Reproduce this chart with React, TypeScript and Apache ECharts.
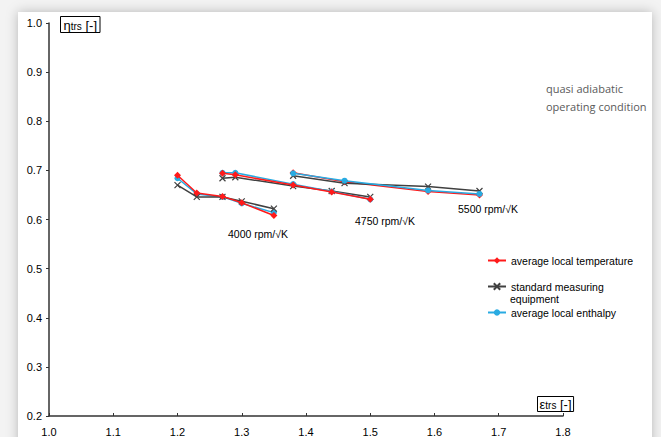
import React, { useEffect, useRef } from "react";
import * as echarts from "echarts";

const legendNames = ["average local temperature", "standard measuring equipment", "average local enthalpy"];
const speedLabels = ["4000 rpm/√K", "4750 rpm/√K", "5500 rpm/√K"];
const xTicks = [1.0, 1.8, 0.1];
const yTicks = [0.2, 1.0, 0.1];

const eps4000 = [1.2, 1.23, 1.27, 1.3, 1.35];
const eps4750 = [1.27, 1.29, 1.38, 1.44, 1.5];
const eps5500 = [1.38, 1.46, 1.59, 1.67];

const temp4000 = [0.69, 0.654, 0.647, 0.634, 0.608];
const std4000 = [0.67, 0.646, 0.646, 0.637, 0.622];
const enth4000 = [0.684, 0.652, 0.646, 0.633, 0.614];

const temp4750 = [0.694, 0.691, 0.67, 0.656, 0.641];
const std4750 = [0.684, 0.686, 0.668, 0.658, 0.646];
const enth4750 = [0.695, 0.695, 0.672, 0.657, 0.641];

const temp5500 = [0.695, 0.677, 0.657, 0.65];
const std5500 = [0.689, 0.674, 0.667, 0.658];
const enth5500 = [0.694, 0.679, 0.659, 0.652];

const RED = "#ff1a1a";
const GREY = "#404040";
const BLUE = "#29abe2";
const FONT = "Liberation Sans";
const X_SYMBOL = "path://M0,0L10,10M10,0L0,10";

const zip = (xs: number[], ys: number[]) => xs.map((x, i) => [x, ys[i]]);

function makeSeries(kind: number, xs: number[], ys: number[], z: number) {
  const base: any = {
    type: "line",
    name: legendNames[kind],
    data: zip(xs, ys),
    z,
    lineStyle: { width: 1.5 },
    emphasis: { disabled: true },
  };
  if (kind === 0) {
    base.symbol = "diamond";
    base.symbolSize = 7;
    base.itemStyle = { color: RED };
    base.lineStyle.color = RED;
  } else if (kind === 1) {
    base.symbol = X_SYMBOL;
    base.symbolSize = 6;
    base.itemStyle = { color: GREY, borderColor: GREY, borderWidth: 1.2 };
    base.lineStyle.color = GREY;
  } else {
    base.symbol = "circle";
    base.symbolSize = 6;
    base.itemStyle = { color: BLUE };
    base.lineStyle.color = BLUE;
  }
  return base;
}

export default function App() {
  const ref = useRef<HTMLDivElement>(null);
  useEffect(() => {
    document.body.style.margin = "0";
    const chart = echarts.init(ref.current!, null, { renderer: "svg" });
    const series = [
      makeSeries(2, eps4000, enth4000, 2),
      makeSeries(1, eps4000, std4000, 3),
      makeSeries(0, eps4000, temp4000, 4),
      makeSeries(1, eps4750, std4750, 2),
      makeSeries(2, eps4750, enth4750, 3),
      makeSeries(0, eps4750, temp4750, 4),
      makeSeries(0, eps5500, temp5500, 2),
      makeSeries(1, eps5500, std5500, 3),
      makeSeries(2, eps5500, enth5500, 4),
    ];
    const legendText = { fontFamily: FONT, fontSize: 10.5, color: "#000" };
    const legendBase = {
      orient: "vertical",
      left: 487,
      padding: 0,
      itemWidth: 18,
      itemHeight: 8,
      textStyle: legendText,
      selectedMode: false,
    };
    const boxRich = {
      a: { fontFamily: FONT, fontSize: 13, fill: "#000" },
      s: { fontFamily: FONT, fontSize: 10, fill: "#000", verticalAlign: "bottom" },
    };
    chart.setOption({
      animation: false,
      backgroundColor: "#f3f3f3",
      textStyle: { fontFamily: FONT },
      grid: { left: 49, right: 98, top: 23, bottom: 19, containLabel: false },
      xAxis: {
        type: "value",
        min: xTicks[0],
        max: xTicks[1],
        interval: xTicks[2],
        axisLine: { lineStyle: { color: "#333", width: 1.5 } },
        axisTick: { inside: true, length: 3, lineStyle: { color: "#333" } },
        splitLine: { show: false },
        axisLabel: { fontFamily: FONT, fontSize: 11, color: "#000", margin: 10, formatter: (v: number) => v.toFixed(1) },
      },
      yAxis: {
        type: "value",
        min: yTicks[0],
        max: yTicks[1],
        interval: yTicks[2],
        axisLine: { show: true, lineStyle: { color: "#333", width: 1.5 } },
        axisTick: { show: true, length: 3, lineStyle: { color: "#333" } },
        splitLine: { show: false },
        axisLabel: { fontFamily: FONT, fontSize: 11, color: "#000", margin: 7, formatter: (v: number) => v.toFixed(1) },
      },
      legend: [
        { ...legendBase, top: 255, data: [legendNames[0]] },
        { ...legendBase, top: 281, data: [legendNames[1]], formatter: () => "standard measuring" },
        { ...legendBase, top: 307, data: [legendNames[2]] },
      ],
      graphic: [
        {
          type: "rect",
          z: -10,
          silent: true,
          shape: { x: 18, y: 12, width: 634, height: 440 },
          style: { fill: "#fff", shadowBlur: 12, shadowColor: "rgba(0,0,0,0.25)" },
        },
        {
          type: "text",
          left: 510,
          top: 293,
          style: { text: "equipment", font: `10.5px ${FONT}`, fill: "#000" },
        },
        {
          type: "text",
          left: 60,
          top: 16,
          style: {
            text: "{a|η}{s|trs}{a| [-]}",
            borderColor: "#000",
            borderWidth: 1,
            padding: [2, 3, 1, 3],
            rich: boxRich,
          },
        },
        {
          type: "text",
          left: 537,
          top: 396,
          style: {
            text: "{a|ε}{s|trs}{a| [-]}",
            borderColor: "#000",
            borderWidth: 1,
            padding: [1, 2, 1, 2],
            rich: boxRich,
          },
        },
        {
          type: "text",
          left: 228,
          top: 228,
          style: { text: speedLabels[0], font: `10.5px ${FONT}`, fill: "#000" },
        },
        {
          type: "text",
          left: 355,
          top: 215,
          style: { text: speedLabels[1], font: `10.5px ${FONT}`, fill: "#000" },
        },
        {
          type: "text",
          left: 458,
          top: 203,
          style: { text: speedLabels[2], font: `10.5px ${FONT}`, fill: "#000" },
        },
        {
          type: "text",
          left: 546,
          top: 79,
          style: {
            text: "quasi adiabatic\noperating condition",
            font: `11px "Open Sans"`,
            lineHeight: 18,
            fill: "#5a5a5a",
          },
        },
      ],
      series,
    });
    return () => chart.dispose();
  }, []);
  return <div ref={ref} style={{ width: 661, height: 437, position: "absolute", left: 0, top: 0 }} />;
}
